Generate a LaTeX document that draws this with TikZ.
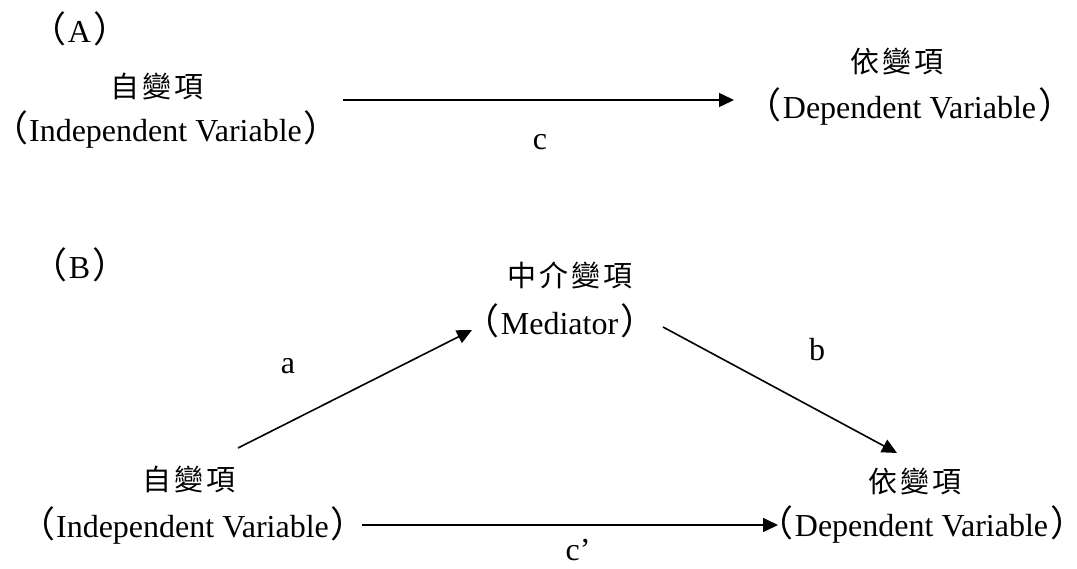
\documentclass[tikz,border=0pt]{standalone}
\usepackage{fontspec}
\setmainfont{Liberation Serif}
\newfontfamily\cjk{Noto Sans CJK TC}
\newfontfamily\cjkp[RawFeature=+halt]{Noto Sans CJK TC}
\usetikzlibrary{arrows.meta}
\newcommand{\lpar}{{\cjkp\fontsize{36}{36}\selectfont （}\hspace{1pt}}
\newcommand{\rpar}{\hspace{2pt}{\cjkp\fontsize{36}{36}\selectfont ）}}
\newcommand{\cjsp}{\hspace{3pt}}
\begin{document}
\begin{tikzpicture}[x=1pt,y=-1pt,
  lat/.style={font=\fontsize{32}{32}\selectfont, inner sep=0pt, anchor=base},
  cjkl/.style={font=\cjk\fontsize{29}{29}\selectfont, inner sep=0pt},
  arr/.style={-{Triangle[length=15pt,width=14pt]}, line width=1.6pt}]
\fill[white] (0,0) rectangle (1077,569);
\useasboundingbox (0,0) rectangle (1077,569);
% (A)
\node[lat] (labA) at (80,43) {\lpar A\rpar};
\node[cjkl] (ivAzh) at (157,87) {自\cjsp 變\cjsp 項};
\node[lat] (ivAen) at (166,142) {\lpar Independent Variable\rpar};
\node[cjkl] (dvAzh) at (897,62) {依\cjsp 變\cjsp 項};
\node[lat] (dvAen) at (910,119) {\lpar Dependent Variable\rpar};
\node[lat] (lcA) at (540,150) {c};
\coordinate (cS) at (343,100);
\coordinate (cE) at (734,100);
\draw[arr] (cS) -- (cE);
% (B)
\node[lat] (labB) at (80,279) {\lpar B\rpar};
\node[cjkl] (medzh) at (570,275) {中\cjsp 介\cjsp 變\cjsp 項};
\node[lat] (meden) at (560,335) {\lpar Mediator\rpar};
\node[lat] (la) at (288,374) {a};
\node[lat] (lb) at (817,361) {b};
\node[cjkl] (ivBzh) at (189,480) {自\cjsp 變\cjsp 項};
\node[lat] (ivBen) at (193,537) {\lpar Independent Variable\rpar};
\node[cjkl] (dvBzh) at (915,482) {依\cjsp 變\cjsp 項};
\node[lat] (dvBen) at (922,536) {\lpar Dependent Variable\rpar};
\node[lat] (lcp) at (578,560) {c’};
\coordinate (aS) at (238,448);
\coordinate (aE) at (472,330);
\coordinate (bS) at (663,327);
\coordinate (bE) at (897,453);
\coordinate (pS) at (362,525);
\coordinate (pE) at (778,525);
\draw[arr] (aS) -- (aE);
\draw[arr] (bS) -- (bE);
\draw[arr] (pS) -- (pE);
\end{tikzpicture}
\end{document}
